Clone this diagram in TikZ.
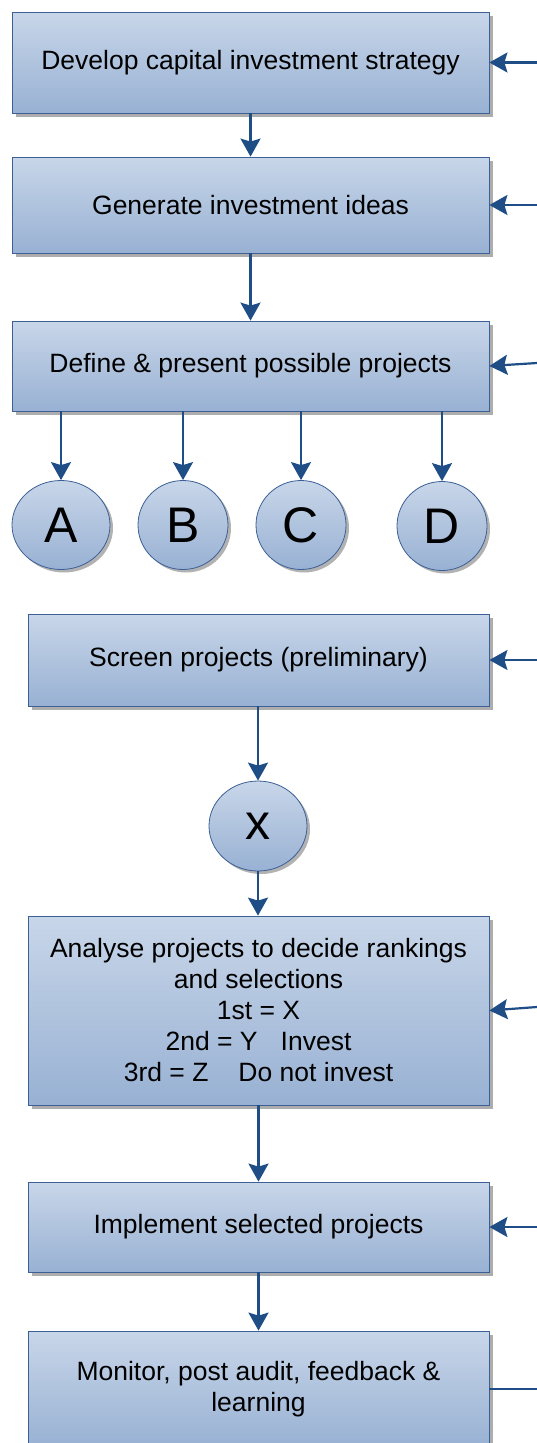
\documentclass[tikz,border=0pt]{standalone}
\usepackage{fontspec}
\setmainfont{Liberation Sans}
\usetikzlibrary{shapes.geometric,arrows.meta,shadows,calc}

\definecolor{stagetop}{RGB}{200,214,233}
\definecolor{stagebottom}{RGB}{152,177,211}
\definecolor{stageline}{RGB}{60,95,150}
\definecolor{linkblue}{RGB}{31,77,134}

\begin{document}
\begin{tikzpicture}[x=1pt,y=-1pt]

  \tikzstyle{stage}=[shape=rectangle, draw=stageline, line width=0.8pt, top color=stagetop, bottom color=stagebottom,
    drop shadow={shadow xshift=4pt,shadow yshift=-4pt,fill=black!32,opacity=1},
    align=center, inner sep=0pt, minimum width=461pt, font=\fontsize{26.5}{31}\selectfont]
  \tikzstyle{project}=[shape=ellipse, draw=stageline, line width=0.8pt, top color=stagetop, bottom color=stagebottom,
    drop shadow={shadow xshift=3pt,shadow yshift=-3pt,fill=black!30,opacity=1},
    inner sep=0pt, minimum width=90pt, minimum height=89pt, font=\fontsize{50}{50}\selectfont]
  \tikzstyle{connection}=[color=linkblue, line width=2.2pt, -{Stealth[length=18pt,width=20pt,inset=3pt]}]

  \useasboundingbox (0,0) rectangle (537,1443);
  \clip (0,0) rectangle (537,1443);

  \node [stage,minimum width=477pt,minimum height=101pt] (strategy) at (250.5,62.5) {Develop capital investment strategy};
  \node [stage,minimum width=477pt,minimum height=96pt] (ideas) at (250.5,205) {Generate investment ideas};
  \node [stage,minimum width=477pt,minimum height=90pt] (define) at (250.5,366) {Define \& present possible projects};

  \node [project,minimum width=98pt] (A) at (61,525) {A};
  \node [project] (B) at (183,525) {B};
  \node [project] (C) at (301,525) {C};
  \node [project] (D) at (442,526) {D};

  \node [stage,minimum height=92pt] (screen) at (258.5,660) {Screen projects (preliminary)};
  \node [project,minimum width=98pt,minimum height=90pt] (x) at (258,826) {x};
  \node [stage,minimum height=189pt] (analyse) at (258.5,1010.5) {Analyse projects to decide rankings\\ and selections\\ 1st = X\\ 2nd = Y\hspace{23pt}Invest\\ 3rd = Z\hspace{30pt}Do not invest};
  \node [stage,minimum height=90pt] (implement) at (258.5,1227) {Implement selected projects};
  \node [stage,minimum height=116pt] (monitor) at (258.5,1389) {Monitor, post audit, feedback \&\\ learning};

  \coordinate (in1) at (537,62.5);
  \coordinate (in2) at (537,205);
  \coordinate (in3) at (537,363);
  \coordinate (in4) at (537,660);
  \coordinate (in5) at (537,1007);
  \coordinate (in6) at (537,1227);
  \coordinate (out7) at (537,1389);

  \draw[connection] (strategy) -- (ideas);
  \draw[connection] (ideas) -- (define);
  \foreach \p in {A,B,C,D}
    \draw[connection] (define.south -| \p) -- (\p);
  \draw[connection] (screen.south -| x) -- (x);
  \draw[connection] (x) -- (analyse.north -| x);
  \draw[connection] (analyse) -- (implement);
  \draw[connection] (implement) -- (monitor);

  \draw[connection] (in1) -- (strategy.east);
  \draw[connection] (in2) -- (ideas.east);
  \draw[connection] (in3) -- (define.east);
  \draw[connection] (in4) -- (screen.east);
  \draw[connection] (in5) -- (analyse.east);
  \draw[connection] (in6) -- (implement.east);
  \draw[connection,-] (monitor.east) -- (out7);
\end{tikzpicture}
\end{document}
